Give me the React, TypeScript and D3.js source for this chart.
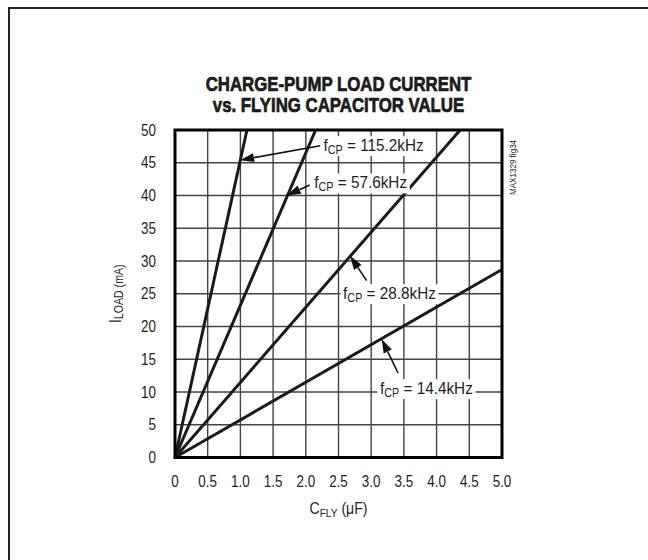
import React, { useEffect, useRef } from "react";
import * as d3 from "d3";

const xTickValues = [0, 0.5, 1, 1.5, 2, 2.5, 3, 3.5, 4, 4.5, 5];
const xTickLabels = ["0", "0.5", "1.0", "1.5", "2.0", "2.5", "3.0", "3.5", "4.0", "4.5", "5.0"];
const yTickValues = [0, 5, 10, 15, 20, 25, 30, 35, 40, 45, 50];
const yTickLabels = ["0", "5", "10", "15", "20", "25", "30", "35", "40", "45", "50"];

const seriesFreq = ["115.2kHz", "57.6kHz", "28.8kHz", "14.4kHz"];
const seriesCap = [[0, 1.1], [0, 2.15], [0, 4.36], [0, 5.0]];
const seriesCurrent = [[0, 50], [0, 50], [0, 50], [0, 28.7]];

const annoTip = [[0.994, 45.4], [1.708, 40.0], [2.676, 30.8], [3.16, 18.1]];
const annoTail = [[2.22, 47.6], [2.06, 41.6], [2.93, 27.0], [3.41, 12.9]];
const annoText = [[2.27, 46.8], [2.13, 41.1], [2.57, 24.2], [3.135, 9.7]];

const FONT = "'Liberation Sans', Arial, Helvetica, sans-serif";
const SX = 0.84;

export default function App() {
  const ref = useRef<SVGSVGElement | null>(null);

  useEffect(() => {
    const svg = d3.select(ref.current);
    svg.selectAll("*").remove();

    const x = d3.scaleLinear().domain([0, 5]).range([175, 502]);
    const y = d3.scaleLinear().domain([0, 50]).range([457.5, 130]);

    const narrowText = (px: number, py: number, size: number, anchor: string, sx = SX, weight = "normal", rot = 0) => {
      const g = svg.append("g").attr("transform", `translate(${px},${py}) rotate(${rot}) scale(${sx},1)`);
      return g.append("text").attr("x", 0).attr("y", 0).attr("text-anchor", anchor)
        .attr("font-family", FONT).attr("font-size", size).attr("font-weight", weight).attr("fill", "#1e1e1e");
    };

    // outer border
    svg.append("rect").attr("x", 9).attr("y", 8).attr("width", 700).attr("height", 600)
      .attr("fill", "none").attr("stroke", "#222").attr("stroke-width", 2);

    // title
    narrowText(338.5, 91, 20.5, "middle", 0.82, "bold")
      .attr("stroke", "#111").attr("stroke-width", 0.7).text("CHARGE-PUMP LOAD CURRENT");
    narrowText(338.5, 112, 20.5, "middle", 0.82, "bold")
      .attr("stroke", "#111").attr("stroke-width", 0.7).text("vs. FLYING CAPACITOR VALUE");

    // grid
    const g = svg.append("g");
    g.selectAll("line.gx").data(xTickValues.slice(1, -1)).enter().append("line")
      .attr("x1", d => x(d)).attr("x2", d => x(d)).attr("y1", y(0)).attr("y2", y(50))
      .attr("stroke", "#444").attr("stroke-width", 1.4);
    g.selectAll("line.gy").data(yTickValues.slice(1, -1)).enter().append("line")
      .attr("y1", d => y(d)).attr("y2", d => y(d)).attr("x1", x(0)).attr("x2", x(5))
      .attr("stroke", "#444").attr("stroke-width", 1.4);

    // series
    const line = d3.line<[number, number]>().x(d => x(d[0])).y(d => y(d[1]));
    seriesFreq.forEach((_, i) => {
      const pts: [number, number][] = seriesCap[i].map((c, j) => [c, seriesCurrent[i][j]]);
      svg.append("path").attr("d", line(pts)).attr("fill", "none")
        .attr("stroke", "#1a1a1a").attr("stroke-width", 3).attr("stroke-linecap", "butt");
    });

    // frame
    svg.append("rect").attr("x", x(0)).attr("y", y(50)).attr("width", x(5) - x(0)).attr("height", y(0) - y(50))
      .attr("fill", "none").attr("stroke", "#000").attr("stroke-width", 3);

    // annotations
    seriesFreq.forEach((f, i) => {
      const txt = narrowText(x(annoText[i][0]), y(annoText[i][1]), 17, "start", 0.9);
      txt.append("tspan").text("f");
      txt.append("tspan").attr("font-size", 12).attr("dy", 3).text("CP");
      txt.append("tspan").attr("dy", -3).text(" = " + f);
      const bb = (txt.node() as SVGTextElement).getBBox();
      d3.select(txt.node()!.parentNode as SVGGElement).insert("rect", "text")
        .attr("x", bb.x - 3).attr("y", bb.y + 1).attr("width", bb.width + 6).attr("height", bb.height - 1)
        .attr("fill", "#fff");
      const tx = x(annoTip[i][0]), ty = y(annoTip[i][1]);
      const sx = x(annoTail[i][0]), sy = y(annoTail[i][1]);
      const ang = Math.atan2(sy - ty, sx - tx);
      const L = 14, W = 4.5;
      const bx = tx + L * Math.cos(ang), by = ty + L * Math.sin(ang);
      svg.append("line").attr("x1", sx).attr("y1", sy).attr("x2", bx).attr("y2", by)
        .attr("stroke", "#111").attr("stroke-width", 1.6);
      svg.append("polygon").attr("points", [
        [tx, ty],
        [bx + W * Math.sin(ang), by - W * Math.cos(ang)],
        [bx - W * Math.sin(ang), by + W * Math.cos(ang)],
      ].map(p => p.join(",")).join(" ")).attr("fill", "#111");
    });

    // tick labels
    xTickValues.forEach((d, i) => {
      narrowText(x(d), 487, 16, "middle").text(xTickLabels[i]);
    });
    yTickValues.forEach((d, i) => {
      narrowText(156, y(d) + 5.7, 16, "end").text(yTickLabels[i]);
    });

    // axis titles
    const xl = narrowText(338.5, 514, 16, "middle", 0.88);
    xl.append("tspan").text("C");
    xl.append("tspan").attr("font-size", 11.5).attr("dy", 3).text("FLY");
    xl.append("tspan").attr("dy", -3).text(" (\u03bcF)");

    const yl = narrowText(121, (y(0) + y(50)) / 2, 16, "middle", 0.88, "normal", -90);
    yl.append("tspan").text("I");
    yl.append("tspan").attr("font-size", 12).attr("dy", 2).text("LOAD (mA)");

    // figure id
    narrowText(516, 195, 9.5, "start", 0.85, "normal", -90).text("MAX1329 fig34");
  }, []);

  return (
    <svg ref={ref} width={648} height={560}
      style={{ position: "absolute", left: 0, top: 0, background: "#fff" }} />
  );
}
